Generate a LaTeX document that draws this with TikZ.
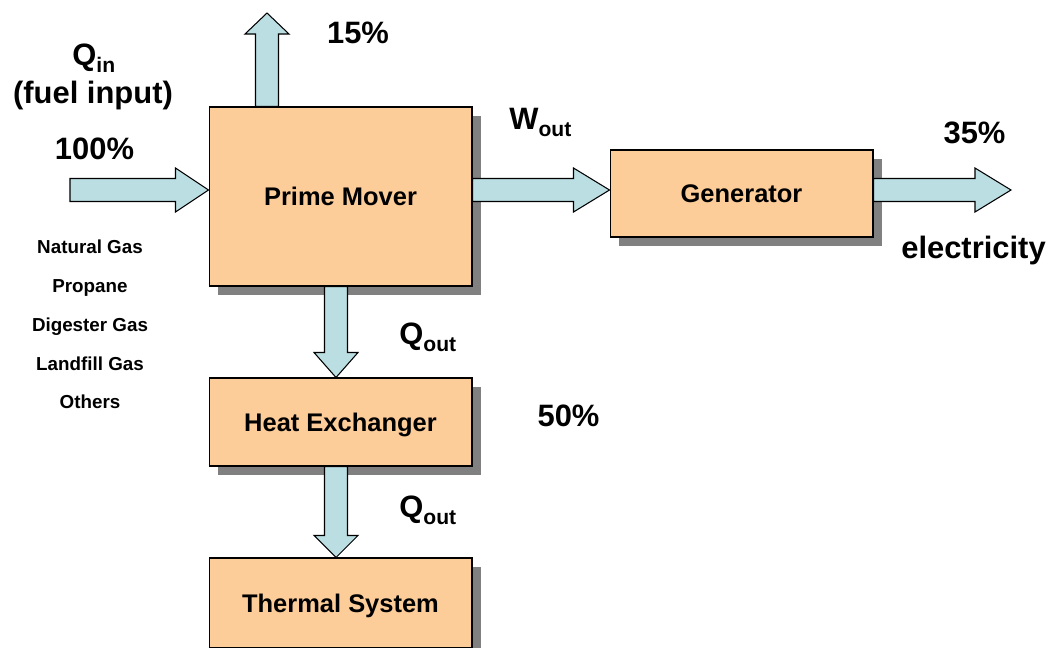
\documentclass[tikz,border=0pt]{standalone}
\usepackage{fontspec}
\setmainfont{Liberation Sans}
\usetikzlibrary{calc}
\usetikzlibrary{shadows}

\definecolor{peach}{RGB}{252,204,153}
\definecolor{flowblue}{RGB}{187,222,227}

\newcommand{\lowsub}[1]{\raisebox{-4pt}{\fontsize{12}{12}\selectfont #1}}
% block arrow from #1 to #2, head length #3
\newcommand{\flowarrow}[3]{%
  \coordinate (fa) at (#1);
  \coordinate (fb) at (#2);
  \coordinate (fh) at ($(fb)!#3!(fa)$);
  \draw[flow] ($(fa)!0.23cm!90:(fb)$) -- ($(fh)!0.23cm!90:(fb)$) -- ($(fh)!0.44cm!90:(fb)$) -- (fb)
    -- ($(fh)!0.44cm!-90:(fb)$) -- ($(fh)!0.23cm!-90:(fb)$) -- ($(fa)!0.23cm!-90:(fb)$) -- cycle;
}

\begin{document}
\begin{tikzpicture}[
    x=0.02cm, y=-0.02cm,
    unit/.style={rectangle,draw,fill=peach,line width=0.6pt,minimum width=5.26cm,text depth=0pt,
      font=\fontsize{14.5}{17}\selectfont\bfseries,
      drop shadow={shadow xshift=0.18cm,shadow yshift=-0.18cm,fill=black!50,opacity=1}},
    flow/.style={draw,fill=flowblue,line width=0.6pt},
    flowtext/.style={inner sep=0pt,font=\fontsize{17.6}{21}\selectfont\bfseries},
    fuel/.style={inner sep=0pt,align=center,font=\fontsize{10.7}{22.05}\selectfont\bfseries}
]
\fill[white] (0,0) rectangle (1051,647);
\useasboundingbox (0,0) rectangle (1051,647);

\node[unit,minimum height=3.58cm] (pm) at (340.5,196.5) {Prime Mover};
\node[unit,minimum height=1.74cm] (gen) at (741.5,193.5) {Generator};
\node[unit,minimum height=1.76cm] (hx) at (340.5,422) {Heat Exchanger};
\node[unit,minimum height=1.80cm] (ts) at (340.5,603) {Thermal System};

\coordinate (fuelin) at (70,190);
\coordinate (vent) at (267,13);
\coordinate (elec) at (1011,190);
\coordinate (qline) at (336,330);

\flowarrow{fuelin}{pm.west |- fuelin}{0.66cm}
\flowarrow{pm.north -| vent}{vent}{0.42cm}
\flowarrow{pm.east |- fuelin}{gen.west |- fuelin}{0.72cm}
\flowarrow{gen.east |- elec}{elec}{0.72cm}
\flowarrow{pm.south -| qline}{hx.north -| qline}{0.5cm}
\flowarrow{hx.south -| qline}{ts.north -| qline}{0.44cm}

\node[flowtext,anchor=base west] (qin) at (72,65) {Q\lowsub{in}};
\node[flowtext,anchor=base] (fuelnote) at (93,103) {(fuel input)};
\node[flowtext,anchor=base] (pin) at (94.5,159) {100\%};
\node[flowtext,anchor=base] (pvent) at (358,43) {15\%};
\node[flowtext,anchor=base west] (wout) at (509,129) {W\lowsub{out}};
\node[flowtext,anchor=base] (pelec) at (974.5,143) {35\%};
\node[flowtext,anchor=base] (electext) at (973.5,258) {electricity};
\node[flowtext,anchor=base west] (qout1) at (399,344) {Q\lowsub{out}};
\node[flowtext,anchor=base west] (qout2) at (399,517) {Q\lowsub{out}};
\node[flowtext,anchor=base] (pheat) at (568.5,426) {50\%};
\node[fuel,anchor=north] (fuels) at (90,240) {Natural Gas\\Propane\\Digester Gas\\Landfill Gas\\Others};

\end{tikzpicture}
\end{document}
